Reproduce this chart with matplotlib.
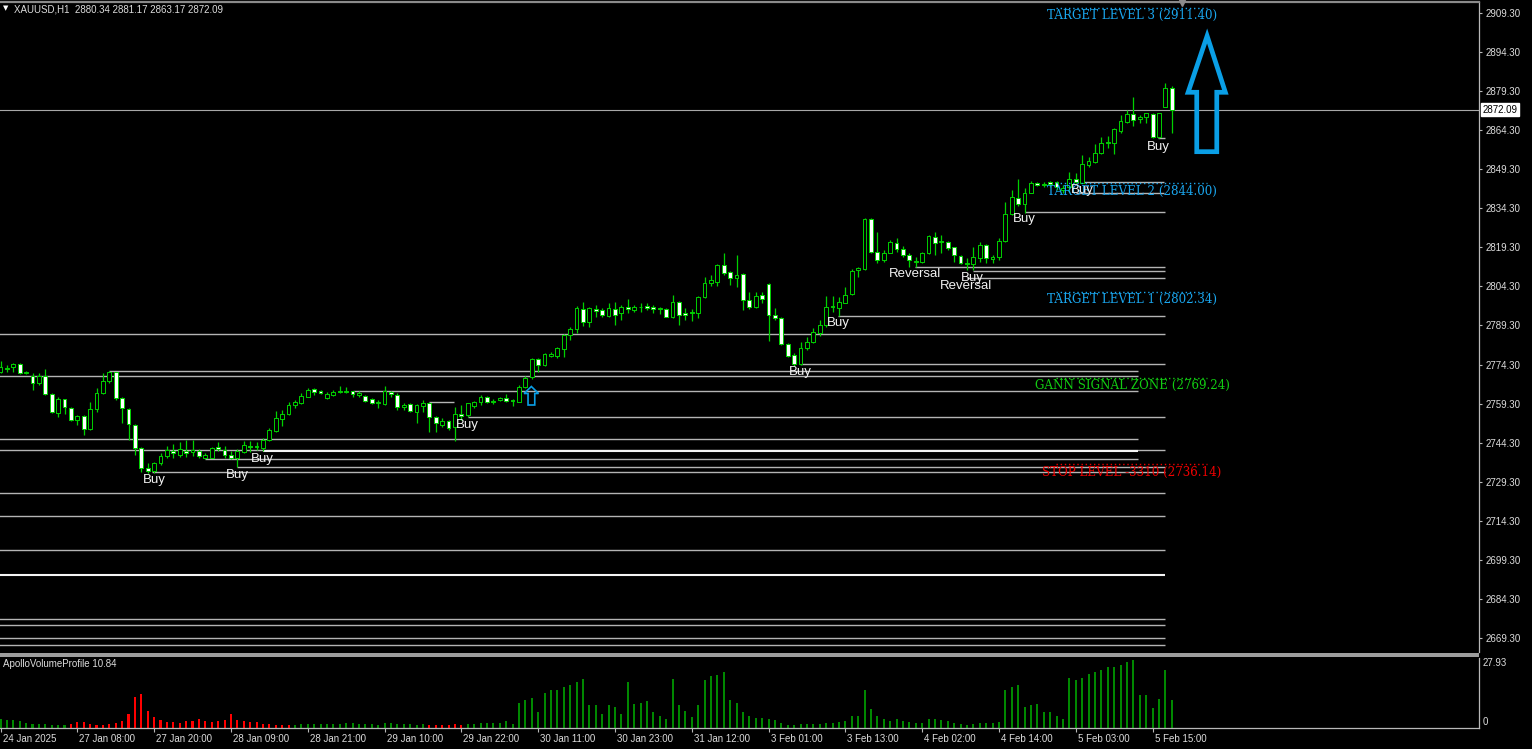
import numpy as np
import matplotlib
matplotlib.use("Agg")
import matplotlib.pyplot as plt
from matplotlib.patches import Rectangle, Polygon
from matplotlib.collections import LineCollection, PatchCollection
import matplotlib.transforms as mtrans

# ---------------- data ----------------
header_text = "XAUUSD,H1  2880.34 2881.17 2863.17 2872.09"
indicator_name = "ApolloVolumeProfile 10.84"
last_price = 2872.09

opens = [2771.5, 2772.4, 2773.2, 2774.5, 2770.9, 2769.9, 2767.3, 2769.9, 2763.0, 2755.8,
         2760.9, 2757.8, 2753.0, 2754.5, 2749.4, 2757.1, 2763.2, 2768.1, 2771.3, 2761.3,
         2757.1, 2751.0, 2742.1, 2734.7, 2733.5, 2736.6, 2739.2, 2741.2, 2739.5, 2741.2,
         2740.8, 2741.2, 2738.6, 2738.6, 2742.5, 2741.5, 2739.5, 2738.6, 2740.8, 2743.2,
         2742.6, 2742.1, 2745.3, 2748.9, 2753.5, 2755.3, 2758.6, 2759.4, 2761.9, 2764.8,
         2764.1, 2761.3, 2762.6, 2763.6, 2763.7, 2764.1, 2762.6, 2762.2, 2760.9, 2759.4,
         2759.1, 2763.9, 2762.6, 2758.1, 2759.1, 2756.2, 2758.4, 2759.4, 2754.0, 2751.0,
         2752.7, 2750.2, 2755.3, 2754.9, 2758.4, 2760.0, 2761.7, 2759.9, 2760.7, 2761.4,
         2760.2, 2760.0, 2765.8, 2769.4, 2776.3, 2774.1, 2777.6, 2777.6, 2780.1, 2785.6,
         2787.8, 2795.5, 2790.8, 2795.8, 2795.3, 2792.9, 2795.8, 2794.2, 2796.3, 2795.3,
         2796.3, 2796.8, 2796.5, 2795.8, 2795.6, 2792.4, 2798.2, 2794.0, 2794.0, 2794.0,
         2800.1, 2805.5, 2806.1, 2812.5, 2809.7, 2807.4, 2809.1, 2799.1, 2796.3, 2801.0,
         2805.1, 2793.3, 2792.0, 2782.2, 2777.9, 2774.5, 2780.5, 2783.1, 2786.5, 2789.5,
         2796.5, 2796.1, 2798.1, 2801.4, 2810.6, 2810.9, 2830.1, 2817.6, 2814.4, 2817.3,
         2821.1, 2818.5, 2816.4, 2813.8, 2813.8, 2817.3, 2823.4, 2821.4, 2821.5, 2819.3,
         2816.0, 2812.9, 2812.9, 2815.1, 2820.2, 2814.7, 2815.7, 2821.9, 2832.1, 2838.1,
         2835.9, 2840.3, 2844.1, 2843.3, 2844.4, 2844.5, 2841.3, 2842.6, 2845.4, 2844.1,
         2850.9, 2852.2, 2855.4, 2859.5, 2859.5, 2864.0, 2867.6, 2870.5, 2868.5, 2869.2,
         2870.5, 2861.8, 2873.3, 2880.34]
highs = [2775.8, 2774.1, 2775.0, 2774.7, 2771.9, 2770.9, 2770.9, 2772.4, 2763.2, 2761.9,
         2761.2, 2758.1, 2755.0, 2754.9, 2760.0, 2765.1, 2771.2, 2772.0, 2771.5, 2761.7,
         2757.5, 2751.3, 2742.7, 2736.3, 2737.0, 2740.2, 2743.0, 2743.8, 2744.7, 2745.3,
         2745.3, 2741.7, 2740.2, 2742.5, 2744.7, 2743.0, 2741.2, 2741.7, 2745.0, 2745.0,
         2744.7, 2745.9, 2749.8, 2756.6, 2756.8, 2760.0, 2760.7, 2763.2, 2765.1, 2765.1,
         2764.5, 2763.9, 2764.5, 2766.0, 2765.8, 2764.2, 2764.2, 2762.6, 2761.3, 2760.7,
         2766.0, 2764.2, 2763.2, 2759.6, 2759.4, 2759.1, 2760.7, 2759.8, 2754.5, 2753.6,
         2753.0, 2758.1, 2758.7, 2759.6, 2760.4, 2762.6, 2762.2, 2760.9, 2762.0, 2763.0,
         2760.9, 2766.4, 2769.9, 2776.9, 2776.7, 2778.9, 2779.3, 2781.2, 2786.0, 2788.6,
         2796.8, 2798.5, 2796.5, 2797.2, 2795.9, 2798.1, 2798.5, 2797.2, 2799.3, 2797.2,
         2798.1, 2798.1, 2797.2, 2796.5, 2795.9, 2801.0, 2798.8, 2795.9, 2795.5, 2800.6,
         2807.8, 2808.7, 2812.9, 2817.3, 2810.4, 2816.4, 2809.3, 2802.3, 2802.3, 2802.3,
         2805.5, 2795.9, 2792.4, 2782.4, 2778.6, 2783.1, 2785.0, 2788.2, 2791.4, 2800.6,
         2800.6, 2800.4, 2804.2, 2810.9, 2811.9, 2830.4, 2830.4, 2825.3, 2818.3, 2822.1,
         2822.8, 2819.8, 2817.3, 2815.5, 2817.6, 2824.0, 2825.3, 2824.0, 2821.9, 2819.6,
         2816.4, 2815.1, 2819.3, 2821.5, 2820.6, 2816.4, 2822.8, 2836.8, 2841.3, 2845.4,
         2842.0, 2844.9, 2844.5, 2844.5, 2844.9, 2844.8, 2843.3, 2848.4, 2848.0, 2854.8,
         2854.1, 2859.0, 2861.8, 2862.1, 2865.0, 2870.1, 2872.0, 2877.2, 2870.1, 2871.0,
         2870.8, 2871.0, 2882.5, 2881.17]
lows = [2770.9, 2771.3, 2771.5, 2770.6, 2770.5, 2764.5, 2766.4, 2762.6, 2755.8, 2754.0,
        2755.3, 2752.7, 2750.9, 2747.2, 2749.1, 2756.2, 2763.0, 2767.1, 2760.7, 2751.7,
        2745.3, 2739.5, 2733.1, 2732.5, 2732.8, 2735.7, 2738.3, 2738.6, 2738.9, 2738.9,
        2739.2, 2738.3, 2737.9, 2738.3, 2741.2, 2738.6, 2737.9, 2734.8, 2740.4, 2740.8,
        2741.5, 2741.2, 2745.0, 2748.5, 2750.7, 2754.9, 2757.5, 2759.1, 2761.7, 2762.6,
        2763.0, 2760.9, 2762.2, 2763.5, 2763.5, 2761.9, 2761.7, 2760.0, 2759.1, 2757.5,
        2758.7, 2761.9, 2756.8, 2756.8, 2756.2, 2752.0, 2756.2, 2748.5, 2748.5, 2750.4,
        2749.1, 2745.0, 2753.0, 2754.0, 2757.8, 2758.7, 2759.4, 2759.1, 2760.4, 2759.9,
        2758.5, 2759.8, 2765.2, 2768.6, 2771.6, 2773.8, 2777.1, 2776.7, 2777.3, 2783.7,
        2786.5, 2789.1, 2788.6, 2792.4, 2792.4, 2792.4, 2789.5, 2791.4, 2794.2, 2794.6,
        2794.6, 2795.3, 2794.2, 2793.7, 2792.4, 2792.0, 2789.5, 2791.4, 2791.2, 2792.0,
        2799.7, 2804.5, 2804.5, 2808.7, 2804.9, 2804.2, 2795.2, 2795.5, 2795.9, 2797.8,
        2783.5, 2791.4, 2781.8, 2777.3, 2773.8, 2774.1, 2779.9, 2782.5, 2785.3, 2788.9,
        2794.6, 2793.0, 2797.8, 2801.0, 2807.8, 2810.6, 2817.0, 2813.4, 2813.8, 2817.0,
        2817.6, 2815.7, 2811.9, 2811.9, 2813.2, 2816.7, 2816.4, 2817.0, 2818.3, 2813.8,
        2812.9, 2810.6, 2810.6, 2813.8, 2813.2, 2813.4, 2814.4, 2821.5, 2831.7, 2835.2,
        2832.6, 2840.0, 2842.9, 2842.6, 2842.6, 2841.3, 2840.1, 2840.7, 2843.9, 2843.9,
        2850.3, 2851.8, 2855.2, 2857.3, 2855.2, 2863.4, 2867.2, 2865.9, 2867.2, 2866.9,
        2861.2, 2861.2, 2873.1, 2863.17]
closes = [2773.5, 2773.1, 2774.5, 2770.9, 2771.5, 2767.4, 2769.9, 2763.0, 2756.2, 2760.9,
          2758.1, 2753.0, 2754.5, 2749.4, 2757.1, 2763.2, 2768.1, 2771.3, 2761.3, 2757.5,
          2751.4, 2742.1, 2734.4, 2733.5, 2736.6, 2739.3, 2741.5, 2740.4, 2741.7, 2740.4,
          2741.5, 2739.2, 2739.4, 2742.1, 2741.7, 2739.5, 2738.6, 2741.2, 2743.4, 2742.7,
          2743.0, 2745.3, 2749.1, 2753.6, 2755.3, 2758.6, 2759.9, 2762.2, 2764.5, 2763.7,
          2763.5, 2763.0, 2763.9, 2764.1, 2764.0, 2762.8, 2763.2, 2760.4, 2759.4, 2759.9,
          2764.2, 2762.8, 2758.1, 2758.7, 2756.6, 2758.7, 2759.6, 2754.0, 2751.7, 2752.7,
          2749.8, 2755.3, 2754.5, 2759.4, 2760.0, 2761.9, 2760.0, 2760.4, 2761.3, 2760.4,
          2760.7, 2765.8, 2769.0, 2776.4, 2774.3, 2778.2, 2778.2, 2780.5, 2785.6, 2787.8,
          2795.9, 2790.8, 2795.9, 2795.0, 2793.3, 2795.9, 2793.3, 2796.5, 2795.8, 2796.5,
          2796.5, 2796.2, 2795.8, 2796.0, 2792.7, 2798.5, 2793.3, 2793.2, 2794.6, 2800.4,
          2805.5, 2806.8, 2812.5, 2809.3, 2807.4, 2808.7, 2799.1, 2796.3, 2800.6, 2799.4,
          2793.3, 2792.0, 2782.2, 2777.7, 2774.5, 2780.5, 2783.1, 2786.9, 2789.5, 2796.5,
          2796.8, 2798.2, 2801.0, 2810.4, 2811.2, 2830.1, 2817.6, 2814.4, 2817.3, 2821.5,
          2818.5, 2816.4, 2814.4, 2814.2, 2817.3, 2823.7, 2821.1, 2821.6, 2818.9, 2816.4,
          2813.4, 2813.4, 2815.5, 2820.2, 2815.1, 2815.7, 2821.9, 2832.1, 2838.8, 2835.9,
          2840.3, 2844.1, 2843.3, 2843.6, 2843.5, 2842.4, 2842.0, 2845.4, 2844.5, 2851.3,
          2852.6, 2855.7, 2859.5, 2859.9, 2864.6, 2868.0, 2870.5, 2868.2, 2869.2, 2870.8,
          2861.8, 2870.8, 2880.4, 2872.09]

volumes = [3.85, 3.44, 3.44, 2.75, 2.06, 1.51, 1.79, 1.79, 1.10, 1.10,
           1.10, 1.51, 2.48, 2.48, 1.79, 1.10, 1.10, 1.51, 2.06, 2.75,
           5.92, 12.8, 13.8, 6.88, 4.54, 3.44, 2.48, 2.48, 2.06, 2.75,
           2.75, 3.85, 2.89, 2.48, 2.75, 3.16, 5.92, 3.44, 2.89, 2.48,
           2.48, 1.79, 1.51, 1.10, 1.10, 1.10, 1.10, 1.51, 1.51, 1.51,
           1.51, 1.51, 1.79, 1.79, 2.06, 2.06, 1.79, 1.51, 1.51, 1.10,
           2.20, 2.06, 1.79, 1.79, 1.51, 1.10, 1.51, 1.10, 1.10, 1.10,
           1.10, 1.51, 1.10, 1.51, 1.79, 2.06, 2.06, 2.06, 2.06, 2.75,
           1.51, 10.3, 11.4, 12.1, 6.6, 14.4, 15.5, 15.5, 16.6, 17.6,
           18.6, 20.0, 9.4, 9.4, 5.6, 9.4, 8.4, 5.6, 18.6, 10.0,
           10.3, 11.0, 6.6, 4.8, 3.7, 20.0, 9.4, 6.9, 4.5, 9.4,
           19.7, 21.1, 21.7, 22.8, 11.4, 10.3, 6.5, 5.1, 4.1, 4.0,
           3.85, 3.16, 2.06, 1.24, 1.24, 1.51, 1.51, 1.51, 1.51, 2.2,
           2.2, 2.34, 2.75, 4.8, 5.1, 15.5, 7.6, 4.8, 3.7, 2.89,
           3.7, 2.75, 2.34, 2.06, 2.06, 3.7, 3.7, 3.44, 2.75, 2.06,
           1.51, 1.24, 1.51, 2.06, 1.93, 1.93, 2.34, 15.5, 16.6, 17.6,
           8.7, 9.6, 9.8, 6.5, 6.5, 5.1, 3.7, 20.5, 19.7, 20.5,
           22.0, 23.0, 23.8, 24.9, 24.9, 25.9, 26.8, 27.9, 13.5, 13.3,
           8.1, 12.0, 23.8, 11.4]
# volume direction flag: 1 = up (green), 0 = down (red)
volume_up = ([1] * 11 + [0] * 35 + [1] * 21 + [0] * 6 + [1] * 111)
volume_max_label = "27.93"

time_labels = ["24 Jan 2025", "27 Jan 08:00", "27 Jan 20:00", "28 Jan 09:00", "28 Jan 21:00",
               "29 Jan 10:00", "29 Jan 22:00", "30 Jan 11:00", "30 Jan 23:00", "31 Jan 12:00",
               "3 Feb 01:00", "3 Feb 13:00", "4 Feb 02:00", "4 Feb 14:00", "5 Feb 03:00",
               "5 Feb 15:00"]
time_label_bars = list(range(0, 181, 12))
price_ticks = [2669.30, 2684.30, 2699.30, 2714.30, 2729.30, 2744.30, 2759.30, 2774.30,
               2789.30, 2804.30, 2819.30, 2834.30, 2849.30, 2864.30, 2879.30, 2894.30, 2909.30]

# horizontal signal / level lines (price, start bar, end bar)
level_prices = [2861.18, 2844.21, 2840.29, 2832.69, 2811.87, 2810.22, 2807.42, 2793.06,
                2785.91, 2774.32, 2772.01, 2770.01, 2764.33, 2759.80, 2754.04, 2745.71,
                2741.30, 2741.10, 2737.91, 2735.07, 2732.92, 2725.08, 2716.14, 2703.08,
                2693.36, 2676.70, 2674.16, 2669.28, 2666.48]
level_start = [180.9, 168.7, 168.0, 160.0, 142.9, 152.0, 151.0, 130.9,
               -1, 124.9, 17.0, -1, 55.1, 67.0, 73.0, -1,
               -1, 41.0, 32.0, 37.0, 23.7, -1, -1, -1,
               -1, -1, -1, -1, -1]
level_end = [182.0, 181.8, 181.8, 181.9, 181.9, 181.9, 181.9, 181.9,
             181.9, 181.9, 177.7, 177.7, 177.7, 70.9, 181.9, 177.7,
             181.9, 177.7, 177.7, 181.9, 181.9, 181.9, 181.9, 181.9,
             181.9, 181.9, 181.9, 181.9, 181.9]
level_bright = [0, 0, 0, 0, 0, 0, 0, 0,
                0, 0, 0, 0, 0, 0, 0, 0,
                0, 1, 0, 0, 0, 0, 0, 0,
                1, 0, 0, 0, 0]

# target zones
target_names = ["TARGET LEVEL 3", "TARGET LEVEL 2", "TARGET LEVEL 1",
                "GANN SIGNAL ZONE", "STOP LEVEL -3310"]
target_prices = [2911.40, 2844.00, 2802.34, 2769.24, 2736.14]

# signal labels (text, bar, price)
signal_texts = ["Buy", "Buy", "Buy", "Buy", "Buy", "Buy", "Reversal", "Buy", "Reversal",
                "Buy", "Buy", "Buy"]
signal_bars = [24.0, 36.95, 40.9, 72.9, 124.9, 130.9, 142.9, 151.9, 150.9, 159.9, 169.0, 180.9]
signal_prices = [2729.96, 2731.88, 2738.0, 2751.08, 2771.44, 2790.25, 2809.07, 2807.53,
                 2804.46, 2830.19, 2841.33, 2857.84]

# ---------------- figure ----------------
W, H = 1532, 749
DPI = 100
fig = plt.figure(figsize=(W / DPI, H / DPI), dpi=DPI, facecolor="black")


def fx(px):
    return px / W


def fy(py):
    return 1 - py / H


AX_RIGHT = 1479
ax = fig.add_axes([0, fy(652), fx(AX_RIGHT), fy(2) - fy(652)], facecolor="black")
axv = fig.add_axes([0, fy(728), fx(AX_RIGHT), fy(658) - fy(728)], facecolor="black")

XMIN, XMAX = -0.08, 231.0
YMIN, YMAX = 2663.91, 2913.52

SANS = ["Liberation Sans", "DejaVu Sans"]
SERIF = ["DejaVu Serif"]
GREEN = "#00d000"
TXT = "#dcdcdc"
AXC = "#b8b8b8"

n = len(opens)
idx = np.arange(n)

# candles
wicks = LineCollection([[(i, lows[i]), (i, highs[i])] for i in range(n)],
                       colors=GREEN, linewidths=0.9, zorder=3)
ax.add_collection(wicks)
bw = 0.6
rects = []
fcs = []
for i in range(n):
    lo = min(opens[i], closes[i])
    hi = max(opens[i], closes[i])
    rects.append(Rectangle((i - bw / 2, lo), bw, hi - lo))
    fcs.append("white" if closes[i] < opens[i] else "black")
bodies = PatchCollection(rects, facecolors=fcs, edgecolors=GREEN, linewidths=0.7, zorder=4)
ax.add_collection(bodies)

# level lines
for p, s, e, b in zip(level_prices, level_start, level_end, level_bright):
    ax.hlines(p, s, e, colors="#f4f4f4" if b else "#b4b4b4",
              linewidth=1.5 if b else 1.0, zorder=2)

# current price line
ax.axhline(last_price, color="#a8a8a8", linewidth=0.8, zorder=1)

# target levels
tcolors = ["#1aa6ee", "#1aa6ee", "#1aa6ee", "#12cc12", "#f00000"]
for name, p, c in zip(target_names, target_prices, tcolors):
    ax.hlines(p, 164.9, 188.5, colors=c, linestyles=(0, (1, 2)), linewidth=1.0, zorder=5)
    ax.annotate(f"{name} ({p:.2f})", xy=(176.8, p), xytext=(0, -5.8),
                textcoords="offset points", ha="center", va="center",
                color=c, fontsize=8.6, family=SERIF, zorder=6)

# signal labels
for t, b, p in zip(signal_texts, signal_bars, signal_prices):
    ax.text(b, p, t, color="#f2f2f2", fontsize=9.5, family=SANS,
            ha="center", va="center", zorder=7)

# arrows
big_arrow = [(188.52, 2900.47), (191.37, 2878.85), (190.03, 2878.85), (190.03, 2856.04),
             (186.90, 2856.04), (186.90, 2878.85), (185.55, 2878.85)]
ax.add_patch(Polygon(big_arrow, closed=True, fill=False, edgecolor="#0a9fe6",
                     linewidth=3.4, joinstyle="miter", zorder=6))
small_arrow = [(82.94, 2765.87), (84.06, 2763.19), (83.47, 2763.19), (83.47, 2758.76),
               (82.42, 2758.76), (82.42, 2763.19), (81.80, 2763.19)]
ax.add_patch(Polygon(small_arrow, closed=True, fill=False, edgecolor="#0a9fe6",
                     linewidth=1.2, joinstyle="miter", zorder=6))

# chart-shift marker
ax.plot([184.6], [2913.0], marker="v", markersize=5, color="#8c8c8c",
        clip_on=False, zorder=8)

ax.set_xlim(XMIN, XMAX)
ax.set_ylim(YMIN, YMAX)
ax.set_xticks([])
ax.yaxis.tick_right()
ax.set_yticks(price_ticks)
ax.set_yticklabels([f"{v:.2f}" for v in price_ticks])
ax.tick_params(axis="y", direction="out", length=2.4, width=0.8, color=AXC,
               labelcolor=TXT, labelsize=7, pad=2.2)
for lbl in ax.get_yticklabels():
    lbl.set_family(SANS)
for s in ["left", "bottom"]:
    ax.spines[s].set_visible(False)
ax.spines["right"].set_color(AXC)
ax.spines["right"].set_linewidth(0.9)
ax.spines["top"].set_color("#8a8a8a")
ax.spines["top"].set_linewidth(1.6)

# current price box
ax.annotate(f"{last_price:.2f}", xy=(1.0, last_price), xycoords=("axes fraction", "data"),
            xytext=(2.6, 0), textcoords="offset points", ha="left", va="center",
            fontsize=7, family=SANS, color="black",
            bbox=dict(boxstyle="square,pad=0.15", fc="white", ec="white"),
            annotation_clip=False, zorder=10)

# ---------------- volume panel ----------------
vcols = ["#008800" if u else "#ff0000" for u in volume_up]
axv.bar(idx, volumes, width=0.32, color=vcols, linewidth=0)
axv.set_xlim(XMIN, XMAX)
axv.set_ylim(0, 28.6)
axv.set_yticks([])
axv.set_xticks(time_label_bars)
axv.set_xticklabels(time_labels)
axv.tick_params(axis="x", direction="out", length=3, width=0.8, color=AXC,
                labelcolor=TXT, labelsize=7, pad=1.5)
offset = mtrans.ScaledTranslation(2 / DPI, 0, fig.dpi_scale_trans)
for lbl in axv.get_xticklabels():
    lbl.set_ha("left")
    lbl.set_family(SANS)
    lbl.set_transform(lbl.get_transform() + offset)
for s in ["left", "top"]:
    axv.spines[s].set_visible(False)
axv.spines["bottom"].set_color(AXC)
axv.spines["right"].set_color(AXC)
axv.spines["bottom"].set_linewidth(0.9)
axv.spines["right"].set_linewidth(0.9)

# separator between panels
fig.patches.append(Rectangle((0, fy(657)), fx(AX_RIGHT), fy(653) - fy(657),
                             transform=fig.transFigure, facecolor="#9c9c9c",
                             edgecolor="none"))

# texts
fig.text(fx(14), fy(9), header_text, color=TXT, fontsize=7, family=SANS, va="center")
fig.text(fx(5.5), fy(8), "\u25bc", color="white", fontsize=5, family=["DejaVu Sans"],
         ha="center", va="center")
fig.text(fx(3), fy(664), indicator_name, color=TXT, fontsize=7, family=SANS, va="center")
fig.text(fx(1483), fy(663), volume_max_label, color=TXT, fontsize=7, family=SANS, va="center")
fig.text(fx(1483), fy(722), "0", color=TXT, fontsize=7, family=SANS, va="center")

fig.savefig("out.png", dpi=DPI, facecolor="black")
